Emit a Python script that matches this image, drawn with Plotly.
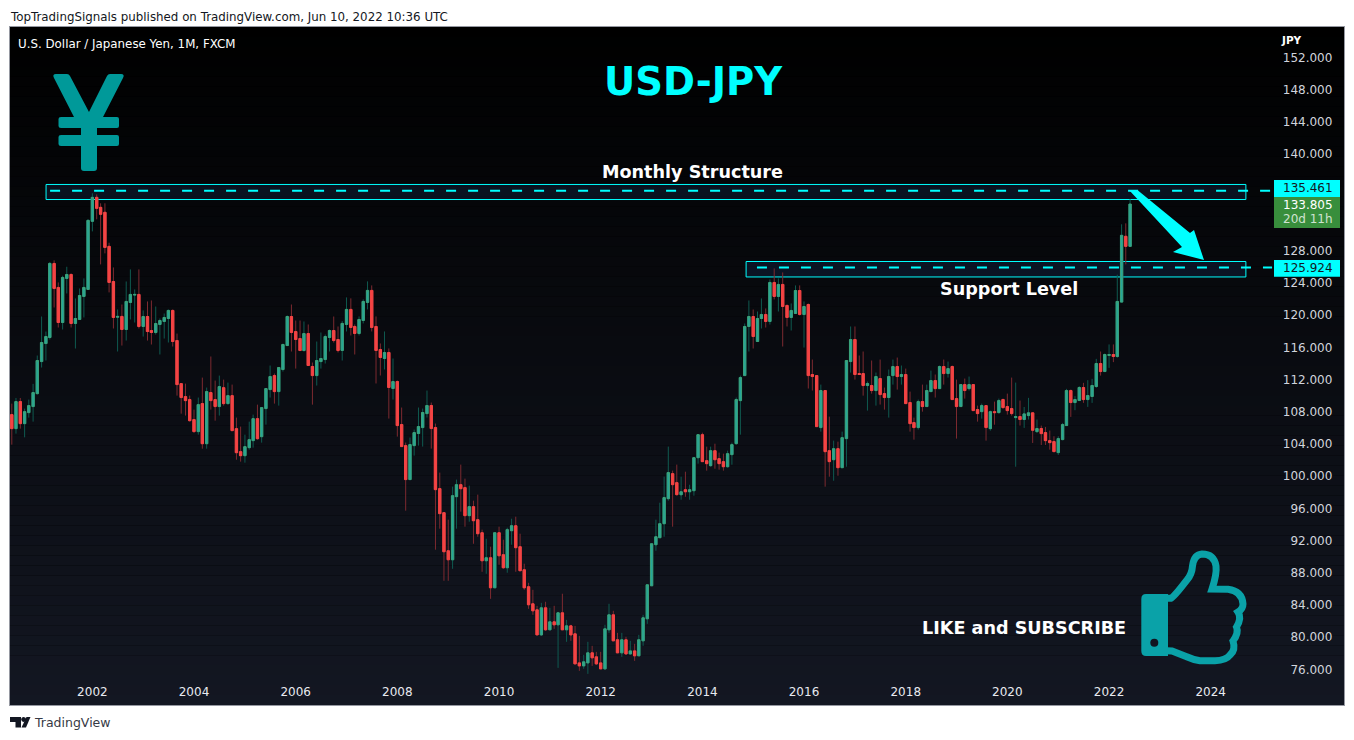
import re
import pandas as pd
import plotly.graph_objects as go

months = pd.date_range("2000-06-01", periods=265, freq="MS")
opens = [107.65,105.91,109.27,106.53,107.90,108.65,110.26,114.24,116.48,117.23,
126.43,123.45,119.09,124.57,125.06,118.97,119.47,122.33,123.20,131.66,
134.64,133.40,132.78,128.55,124.19,119.75,119.85,118.22,121.58,122.50,
122.58,118.60,119.84,118.10,117.85,118.85,119.22,119.59,120.59,116.85,
111.50,109.89,109.52,107.03,105.54,109.02,104.04,110.39,109.52,108.65,
111.00,109.02,110.01,105.91,103.05,102.55,103.55,104.42,107.15,104.91,
108.40,110.76,112.50,110.51,113.25,116.23,119.84,117.97,117.10,115.61,
117.72,113.63,112.50,114.24,114.49,117.23,118.10,116.98,
115.62,118.85,120.72,118.60,117.73,119.35,121.59,123.08,118.60,115.74,114.62,115.37,
110.89,111.76,106.42,103.80,99.58,103.80,105.30,106.04,107.78,108.78,
106.04,98.46,95.47,90.74,89.62,97.46,98.95,98.58,95.10,96.22,
94.60,92.98,89.50,89.87,86.14,92.98,90.25,88.63,93.23,93.85,
91.24,88.38,86.27,84.15,83.40,80.29,83.65,80.92,81.91,81.54,
83.03,80.92,81.41,80.42,76.81,76.44,76.81,78.06,77.56,76.81,
76.07,80.92,82.78,79.68,78.06,79.68,77.93,78.30,77.69,79.55,
82.29,86.39,91.49,92.36,94.10,97.21,100.32,99.20,
97.70,98.32,98.07,98.20,102.30,105.16,101.93,101.31,103.17,102.18,101.81,101.18,
102.68,104.05,109.39,112.50,118.60,119.84,116.73,119.59,120.09,119.22,
124.07,122.33,123.82,121.21,119.72,120.21,123.07,120.09,121.33,112.63,
112.50,106.04,110.64,103.17,102.05,103.42,101.06,104.67,114.24,116.98,
112.75,112.75,111.26,111.26,110.64,112.13,110.26,109.77,112.50,113.62,
112.38,112.63,109.15,106.66,106.04,109.27,108.65,110.51,111.88,110.88,
113.62,112.75,113.62,109.64,108.65,111.38,110.88,111.38,108.28,108.02,
108.77,105.91,108.02,107.90,109.52,108.65,108.40,107.28,
107.41,107.04,107.53,107.87,105.54,105.92,105.42,104.42,104.30,102.93,104.55,106.29,110.64,109.15,
109.40,111.02,109.52,109.90,111.14,114.00,113.00,115.00,115.12,114.87,121.63,129.80,128.55]
highs = [109.02,109.72,109.72,108.40,109.52,111.47,114.99,119.84,117.97,126.60,
126.81,124.07,124.90,126.02,125.19,122.08,123.32,124.57,131.90,135.14,
135.01,133.90,133.90,129.00,125.93,120.71,121.33,124.19,125.69,123.20,
125.69,120.59,121.71,121.83,121.08,119.59,120.21,120.71,120.71,117.72,
111.50,111.50,110.01,108.27,109.77,112.25,111.01,114.87,111.88,112.50,
112.00,111.63,111.38,107.28,106.16,105.16,106.78,107.65,108.89,108.52,
110.88,113.75,112.75,113.50,116.48,119.97,121.33,119.34,119.34,119.22,
118.85,114.12,116.73,117.85,117.60,118.22,119.84,118.60,
119.27,122.21,122.09,118.85,119.85,121.96,124.20,123.70,119.85,116.49,117.98,115.87,
114.62,111.89,108.53,104.18,104.80,105.79,108.53,108.40,110.64,109.15,
106.54,100.45,95.47,94.60,98.70,99.58,101.44,99.70,98.83,96.96,
97.71,93.36,92.23,91.24,92.98,93.73,92.11,93.60,94.72,94.97,
92.86,89.13,86.76,85.89,83.90,84.27,84.40,83.65,83.90,83.15,
85.40,82.16,81.54,81.41,80.17,77.81,79.43,78.93,78.18,78.18,
81.54,84.15,83.28,80.54,80.54,80.05,79.55,79.18,80.29,82.78,
86.51,91.61,94.60,96.71,99.95,103.68,100.69,101.44,
99.94,100.56,98.94,102.30,105.16,105.41,103.67,103.67,104.04,102.93,102.80,103.17,
104.17,109.77,112.50,118.97,121.83,120.71,120.46,122.08,120.84,124.44,
125.81,124.57,125.31,121.33,121.46,123.70,123.70,121.71,121.46,114.49,
112.50,111.38,110.64,107.40,104.42,104.29,105.54,114.37,118.60,118.60,
114.99,115.49,111.76,114.37,112.88,114.49,111.01,113.25,114.49,114.74,
113.75,113.37,110.51,107.28,109.52,111.38,111.38,113.12,112.63,113.75,
114.49,114.24,113.75,112.00,111.38,112.13,112.38,111.38,108.77,109.02,
108.77,108.15,109.27,109.64,109.64,110.26,112.25,111.63,
109.40,108.60,109.73,107.87,107.04,106.29,106.12,105.67,104.96,104.96,106.62,110.85,110.77,109.94,
111.18,111.60,111.93,112.10,114.58,115.49,115.24,116.37,116.37,125.03,131.29,131.41,134.40]
lows = [103.92,105.29,105.91,104.83,107.28,106.78,110.14,113.50,114.37,116.98,
120.96,118.47,118.22,122.70,118.47,115.86,119.47,119.72,123.20,130.41,
131.91,126.31,127.68,122.83,118.35,115.49,116.23,116.85,119.47,119.09,
118.35,117.35,116.85,116.36,117.60,115.12,117.10,116.61,116.11,110.01,
107.77,107.53,106.78,105.41,105.16,103.42,103.42,108.27,106.90,107.53,
108.77,108.89,105.66,102.05,101.81,101.68,103.30,103.55,104.54,104.17,
106.41,109.77,109.02,108.77,113.00,116.23,115.49,113.37,115.61,115.49,
113.75,108.89,111.26,113.37,114.00,115.49,116.60,115.37,
114.37,117.98,117.48,115.12,117.48,118.98,120.72,117.98,111.52,112.51,113.26,107.16,
109.52,104.92,103.68,95.72,99.58,102.56,103.80,103.68,107.29,103.43,
90.87,93.48,87.01,87.01,88.50,93.48,95.60,93.73,94.35,91.61,
92.48,88.13,87.88,84.77,86.14,89.00,88.50,88.01,91.49,88.13,
88.26,85.89,83.53,82.78,80.29,80.17,80.79,80.92,81.04,76.19,
80.92,79.43,79.55,76.69,75.82,76.07,75.45,76.44,76.56,76.07,
75.94,80.54,79.55,78.06,77.56,77.81,77.81,77.06,77.69,78.93,
81.66,86.39,90.74,92.36,92.48,96.96,93.73,97.58,
97.08,97.45,97.08,97.58,101.56,101.81,100.69,101.18,100.93,100.81,100.69,101.06,
101.43,103.90,105.16,112.50,115.49,115.86,116.73,118.35,118.47,118.84,
121.96,120.46,116.11,118.60,118.10,120.21,119.96,115.98,110.89,110.64,
106.16,105.54,98.70,99.94,99.44,100.06,101.06,101.18,112.87,112.00,
112.63,110.01,108.15,110.26,108.77,108.90,108.27,107.28,111.38,110.76,
111.38,109.02,105.54,104.54,105.79,108.02,108.65,110.51,109.77,110.88,
111.38,112.25,109.52,104.67,108.65,109.64,110.64,108.15,106.78,107.15,
104.42,105.66,106.40,107.78,108.40,107.65,107.53,101.18,
106.29,106.00,107.04,104.13,105.38,103.88,103.88,103.30,102.97,102.64,104.46,106.29,107.37,108.20,
109.40,109.11,108.61,109.11,110.97,112.50,113.00,113.46,114.17,114.71,121.63,126.31,128.55]
closes = [105.91,109.27,106.53,108.02,108.77,110.39,114.37,116.61,117.35,126.43,
123.32,119.09,124.69,125.06,118.97,119.59,122.45,123.45,131.78,134.64,
133.27,132.53,128.42,124.07,119.72,119.85,118.22,121.71,122.58,122.58,
118.60,119.84,117.97,117.85,118.97,119.34,119.72,120.59,116.73,111.38,
109.77,109.39,106.90,105.54,108.89,104.04,110.51,109.39,108.65,111.13,
109.02,110.01,105.66,102.92,102.55,103.67,104.54,107.15,104.66,108.52,
110.88,112.38,110.51,113.50,116.36,119.84,117.85,116.98,115.61,117.72,
113.75,112.50,114.37,114.62,117.35,118.10,116.85,115.61,
118.98,120.72,118.48,117.73,119.47,121.71,123.08,118.48,115.62,114.75,115.37,111.02,
111.76,106.29,103.68,99.58,103.93,105.42,106.17,107.91,108.78,105.92,
98.33,95.35,90.62,89.62,97.58,98.95,98.45,95.10,96.22,94.47,
92.86,89.50,89.87,86.14,92.98,90.12,88.63,93.36,93.85,91.12,
88.26,86.14,84.03,83.28,80.29,83.65,80.92,81.91,81.54,83.03,
80.92,81.41,80.29,76.69,76.44,76.94,78.06,77.44,76.69,76.07,
81.04,82.78,79.55,78.06,79.68,77.93,78.30,77.69,79.68,82.41,
86.51,91.61,92.48,94.10,97.34,100.45,98.95,97.71,
98.07,98.07,98.32,102.30,105.16,101.81,101.56,103.17,102.05,101.56,101.18,102.80,
103.92,109.52,112.25,118.60,119.84,117.35,119.59,120.09,119.22,124.07,
122.33,123.82,121.08,119.72,120.59,123.07,120.09,121.08,112.50,112.38,
106.16,110.64,103.05,101.81,103.42,101.06,104.79,114.37,116.98,112.63,
112.63,111.26,111.51,110.64,112.38,110.14,109.77,112.38,113.62,112.38,
112.63,109.02,106.53,106.04,109.27,108.65,110.64,111.88,110.88,113.62,
112.75,113.37,109.52,108.65,111.38,110.64,111.38,108.15,107.78,108.77,
106.04,108.02,107.90,109.39,108.52,108.15,107.78,107.40,
107.04,107.74,107.87,105.71,105.92,105.29,104.42,104.17,103.06,104.67,106.41,110.64,109.15,109.52,
111.02,109.52,110.02,111.27,114.00,113.00,115.12,115.12,114.87,121.71,129.92,128.55,133.805]

price_ticks = [152,148,144,140,128,124,120,116,112,108,104,100,96,92,88,84,80,76]
year_ticks = [2002,2004,2006,2008,2010,2012,2014,2016,2018,2020,2022,2024]
resistance = 135.461
support = 125.924
last_price = 133.805

L, R, T, B = 10, 1344, 27, 705
def X(px): return (px - L) / (R - L)
def Y(py): return (B - py) / (B - T)
def path(s):
    i = [0]
    def f(m):
        v = float(m.group(0)); i[0] += 1
        return f"{X(v) if i[0] % 2 else Y(v):.5f}"
    return re.sub(r"-?\d+\.?\d*", f, s)

shapes = []
# vertical background gradient
N = 68
for k in range(N):
    t = (k + 0.5) / N
    col = f"rgb({round(0x13*t)},{round(0x17*t)},{round(0x22*t)})"
    shapes.append(dict(type="rect", xref="paper", yref="paper", x0=0, x1=1,
                       y0=1 - k / N, y1=1 - (k + 1) / N, fillcolor=col,
                       line_width=0, layer="below"))

def zone(x0, x1, y0, y1):
    shapes.append(dict(type="rect", xref="x", yref="y", x0=x0, x1=x1, y0=y0, y1=y1,
                       fillcolor="rgba(40,110,200,0.13)",
                       line=dict(color="#00ffff", width=1), layer="below"))
zone("2001-02-02", "2024-09-10", 134.37, 136.24)
zone("2014-11-11", "2024-09-10", 124.75, 126.67)
for x0, lvl in (("2001-03-03", resistance), ("2015-01-28", support)):
    shapes.append(dict(type="line", xref="x", yref="y", x0=x0, x1="2025-03-17", y0=lvl, y1=lvl,
                       line=dict(color="#00ffff", width=2, dash="10px,12px")))

def deco(d, fill, **kw):
    shapes.append(dict(type="path", xref="paper", yref="paper", path=path(d),
                       fillcolor=fill, line=kw.get("line", dict(width=0))))

# arrow
deco("M 1129 190 L 1138 190.5 L 1190 233 L 1194 230 L 1204 260 L 1173 252 L 1182 247 Z", "#00ffff")
# yen mark
deco("M 54 78 Q 52 74 56 74 L 67 74 Q 69 74 70 76 L 89 112 L 107 76 Q 108 74 110 74 L 121 74 "
     "Q 125 74 123 78 L 103 117 L 117 117 Q 119 117 119 119 L 119 126 Q 119 128 117 128 L 97 128 "
     "L 97 135 L 117 135 Q 119 135 119 137 L 119 144 Q 119 146 117 146 L 97 146 L 97 168 "
     "Q 97 171 94 171 L 84 171 Q 81 171 81 168 L 81 146 L 61 146 Q 58.5 146 58.5 144 L 58.5 137 "
     "Q 58.5 135 61 135 L 81 135 L 81 128 L 61 128 Q 58.5 128 58.5 126 L 58.5 119 Q 58.5 117 61 117 "
     "L 74 117 Z", "#009999")
# thumb
THUMB = "#0aa2a8"
deco("M 1146 594 L 1168 594 L 1168 656 L 1146 656 Q 1141.3 656 1141.3 651 L 1141.3 599 Q 1141.3 594 1146 594 Z", THUMB)
deco("M 1150.3 642.7 Q 1150.3 638.7 1154.3 638.7 Q 1158.3 638.7 1158.3 642.7 Q 1158.3 646.7 1154.3 646.7 Q 1150.3 646.7 1150.3 642.7 Z", "#111520")
deco("M 1167 598.3 L 1171 598.3 Q 1174 597 1187 580 Q 1192 574 1192.5 566 Q 1194 554.5 1202 554 "
     "Q 1214 554 1216 566 Q 1217 574 1212 589 L 1228 589.3 Q 1242 591 1243 604 Q 1243 609 1238 612 "
     "Q 1242 618 1236.5 627 Q 1239 633 1233 641 Q 1236 650 1230 655 Q 1226 660.5 1215 660.7 "
     "L 1200 660.7 Q 1194 660 1186.7 656.7 L 1172 651 L 1167 650.7", "rgba(0,0,0,0)",
     line=dict(color=THUMB, width=7))
# price tags
def tag(x0, x1, y0, y1, col):
    shapes.append(dict(type="rect", xref="paper", yref="paper", x0=X(x0), x1=X(x1),
                       y0=Y(y0), y1=Y(y1), fillcolor=col, line_width=0))
tag(1274, 1340, 180, 197, "#00ffff")
tag(1274, 1340, 197, 228, "#388e3c")
tag(1274, 1340, 260, 276.7, "#00ffff")
# TradingView logo
deco("M 10 717 L 21 717 L 21 727.5 L 15.5 727.5 L 15.5 722 L 10 722 Z", "#131722")
deco("M 21.2 719.5 Q 21.2 717 23.7 717 Q 26.2 717 26.2 719.5 Q 26.2 722 23.7 722 Q 21.2 722 21.2 719.5 Z", "#131722")
deco("M 26.5 717 L 30.5 717 L 26 727.5 L 21.5 727.5 Z", "#131722")

annotations = []
SANS = "DejaVu Sans"
def ann(text, px, py, size, color, anchor="left", bold=False, family=SANS):
    annotations.append(dict(text=f"<b>{text}</b>" if bold else text, x=X(px), y=Y(py),
                            xref="paper", yref="paper", showarrow=False, xanchor=anchor,
                            yanchor="middle", font=dict(family=family, size=size, color=color)))

ann("TopTradingSignals published on TradingView.com, Jun 10, 2022 10:36 UTC", 8, 17, 11.85, "#131722")
ann("U.S. Dollar / Japanese Yen, 1M, FXCM", 16, 44.5, 11.85, "#ffffff")
ann("JPY", 1279, 40.5, 10.5, "#ffffff", bold=True)
ann("USD-JPY", 693, 81, 38.5, "#00ffff", anchor="center", bold=True)
ann("Monthly Structure", 692, 172, 17.6, "#ffffff", anchor="center", bold=True)
ann("Support Level", 1009, 289, 17.6, "#ffffff", anchor="center", bold=True)
ann("LIKE and SUBSCRIBE", 1024, 628, 17.6, "#ffffff", anchor="center", bold=True)
ann(f"{resistance:.3f}", 1335, 188.5, 12, "#131722", anchor="right")
ann(f"{last_price:.3f}", 1335, 205, 12, "#ffffff", anchor="right")
ann("20d 11h", 1335, 219, 12, "#cfe3d0", anchor="right")
ann(f"{support:.3f}", 1335, 268, 12, "#131722", anchor="right")
ann("TradingView", 32, 722, 12.5, "#363a45")

body_hi = [max(o, c) for o, c in zip(opens, closes)]
body_lo = [min(o, c) for o, c in zip(opens, closes)]

fig = go.Figure()
fig.add_trace(go.Candlestick(x=months, open=opens, high=highs, low=lows, close=closes,
                             whiskerwidth=0, showlegend=False, hoverinfo="skip",
                             increasing=dict(line=dict(color="#0f5a50", width=1), fillcolor="#0f5a50"),
                             decreasing=dict(line=dict(color="#7d2a30", width=1), fillcolor="#7d2a30")))
fig.add_trace(go.Candlestick(x=months, open=opens, high=body_hi, low=body_lo, close=closes,
                             whiskerwidth=0, showlegend=False,
                             increasing=dict(line=dict(color="#3ca27a", width=1), fillcolor="#26a69a"),
                             decreasing=dict(line=dict(color="#f44444", width=1), fillcolor="#f44444")))

fig.update_layout(
    width=1354, height=740, margin=dict(l=L, r=1354 - R, t=T, b=740 - B),
    paper_bgcolor="#ffffff", plot_bgcolor="#000000", showlegend=False, boxgap=0.15,
    font=dict(family=SANS), shapes=shapes, annotations=annotations,
    xaxis=dict(type="date", range=["2000-05-19", "2026-08-16"], rangeslider=dict(visible=False),
               tickvals=[f"{y}-01-01" for y in year_ticks], ticktext=[str(y) for y in year_ticks],
               ticklabelposition="inside", ticklabelstandoff=6, showgrid=False, zeroline=False,
               tickfont=dict(family=SANS, size=12, color="#e8eaf0"), ticks="",
               showline=True, mirror=True, linecolor="#9598a1", linewidth=1),
    yaxis=dict(range=[71.58, 155.8], side="right", tickvals=price_ticks,
               ticktext=[f"{v:.3f}" for v in price_ticks], ticklabelposition="inside",
               ticklabelstandoff=11, showgrid=False, zeroline=False, ticks="",
               tickfont=dict(family=SANS, size=12, color="#d1d4dc"),
               showline=True, mirror=True, linecolor="#9598a1", linewidth=1),
)
fig.write_html("out.html", config=dict(displayModeBar=False),
               post_script="document.body.style.margin='0';document.body.style.overflow='hidden';")
